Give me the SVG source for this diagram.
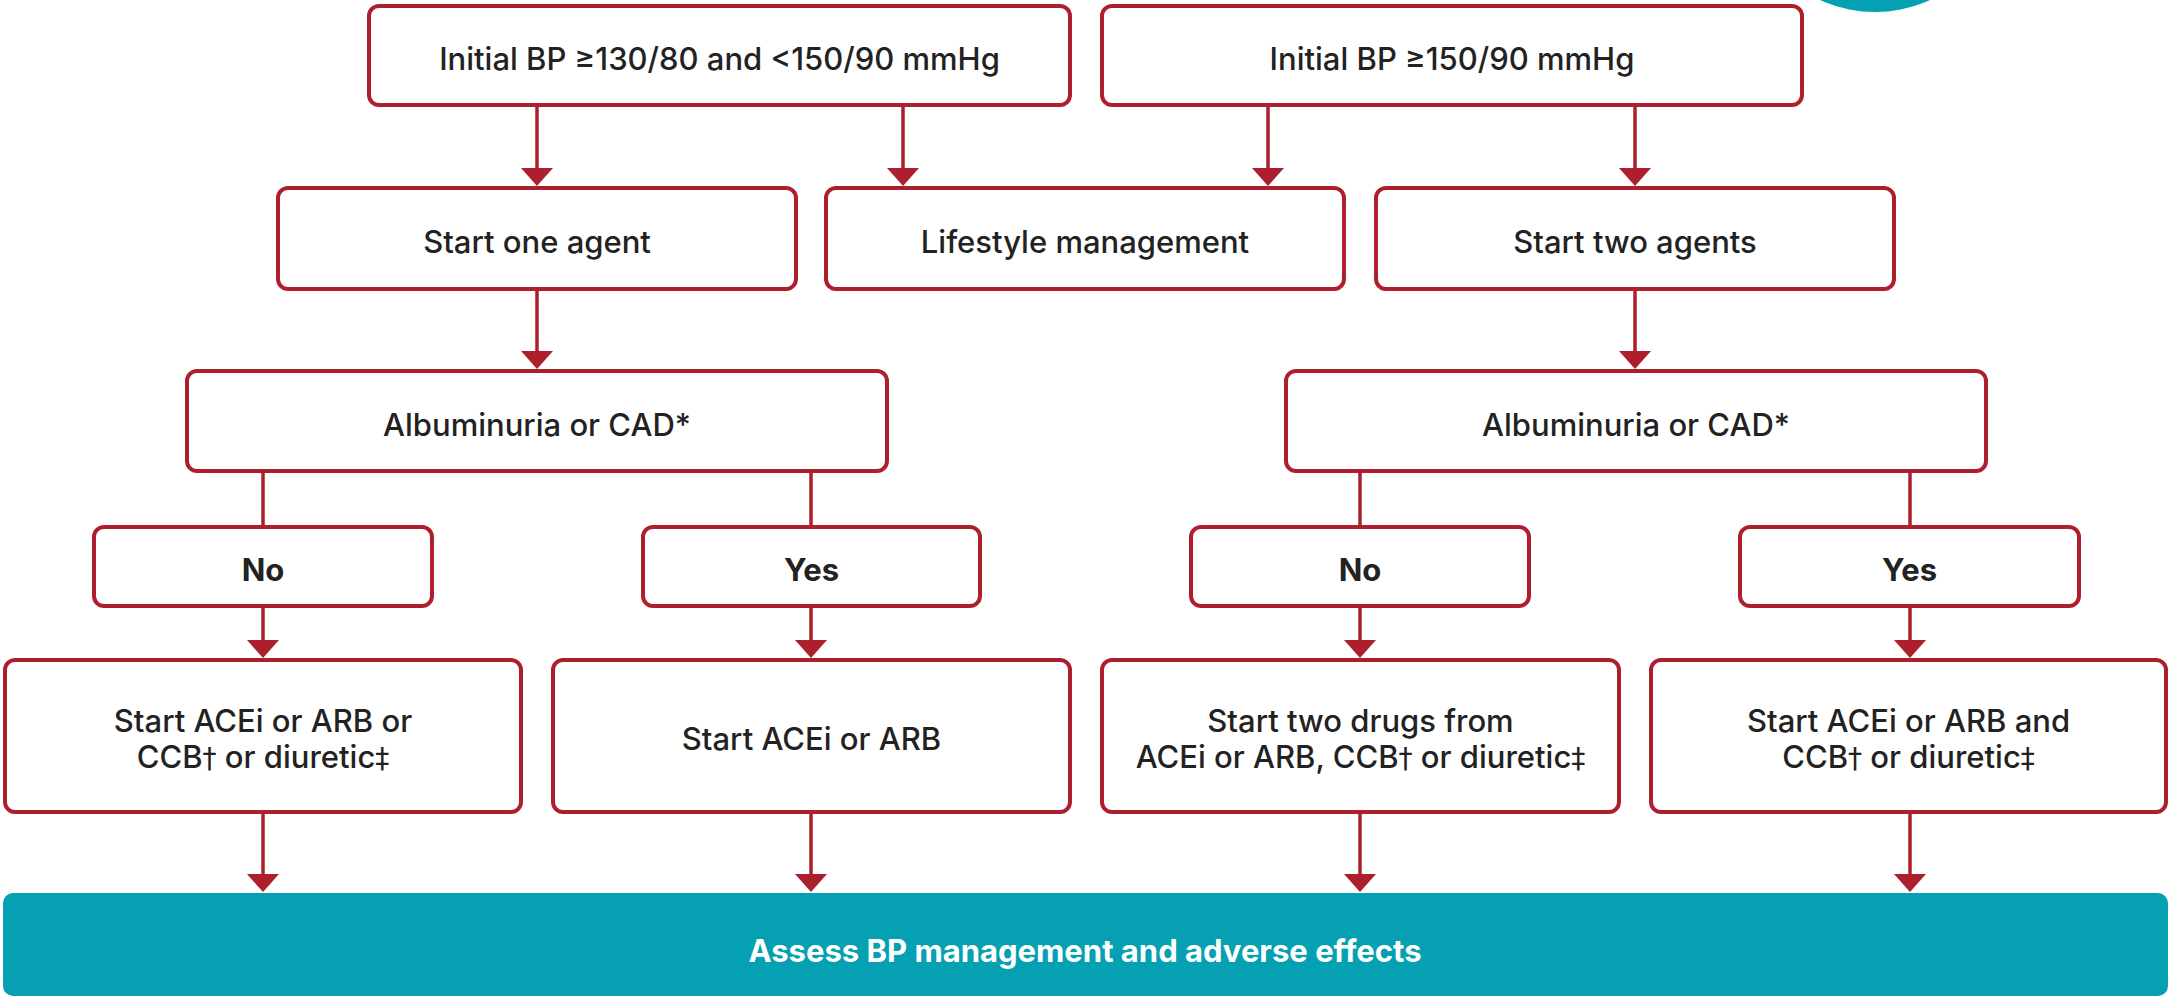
<svg xmlns="http://www.w3.org/2000/svg" width="2170" height="997" viewBox="0 0 2170 997">
  <style>
    .box { fill: #ffffff; stroke: #AE1F2E; stroke-width: 4; }
    .lbl { font-family: Inter, "Liberation Sans", sans-serif; font-size: 31px; font-weight: 500; fill: #222222; text-anchor: middle; }
    .bold { font-weight: 700; }
    .sym { font-family: "DejaVu Sans", sans-serif; font-size: 28px; }
    .wire { stroke: #AE1F2E; stroke-width: 3.5; fill: none; }
    .arrow { marker-end: url(#head); }
    .teal { fill: #05A0B1; }
    .white { fill: #ffffff; }
  </style>
  <defs>
    <marker id="head" viewBox="0 -16 18 32" markerWidth="18" markerHeight="32" refX="14" refY="0" orient="auto" markerUnits="userSpaceOnUse">
      <path d="M0,-16 L18,0 L0,16 Z" fill="#AE1F2E"/>
    </marker>
  </defs>

  <!-- decorative badge at top right -->
  <circle class="teal" cx="1875" cy="-120" r="132"/>

  <!-- connectors -->
  <g id="connectors">
    <line class="wire arrow" x1="537" y1="105" x2="537" y2="182"/>
    <line class="wire arrow" x1="903" y1="105" x2="903" y2="182"/>
    <line class="wire arrow" x1="1268" y1="105" x2="1268" y2="182"/>
    <line class="wire arrow" x1="1635" y1="105" x2="1635" y2="182"/>

    <line class="wire arrow" x1="537" y1="289" x2="537" y2="365"/>
    <line class="wire arrow" x1="1635" y1="289" x2="1635" y2="365"/>

    <line class="wire" x1="263" y1="471" x2="263" y2="527"/>
    <line class="wire" x1="811" y1="471" x2="811" y2="527"/>
    <line class="wire" x1="1360" y1="471" x2="1360" y2="527"/>
    <line class="wire" x1="1910" y1="471" x2="1910" y2="527"/>

    <line class="wire arrow" x1="263" y1="606" x2="263" y2="654"/>
    <line class="wire arrow" x1="811" y1="606" x2="811" y2="654"/>
    <line class="wire arrow" x1="1360" y1="606" x2="1360" y2="654"/>
    <line class="wire arrow" x1="1910" y1="606" x2="1910" y2="654"/>

    <line class="wire arrow" x1="263" y1="812" x2="263" y2="888"/>
    <line class="wire arrow" x1="811" y1="812" x2="811" y2="888"/>
    <line class="wire arrow" x1="1360" y1="812" x2="1360" y2="888"/>
    <line class="wire arrow" x1="1910" y1="812" x2="1910" y2="888"/>
  </g>

  <!-- starting conditions -->
  <g id="bp-moderate">
    <rect class="box" x="369" y="6" width="701" height="99" rx="10"/>
    <text class="lbl" x="719.5" y="70">Initial BP ≥130/80 and &lt;150/90 mmHg</text>
  </g>
  <g id="bp-high">
    <rect class="box" x="1102" y="6" width="700" height="99" rx="10"/>
    <text class="lbl" x="1452" y="70">Initial BP ≥150/90 mmHg</text>
  </g>

  <!-- first actions -->
  <g id="one-agent">
    <rect class="box" x="278" y="188" width="518" height="101" rx="10"/>
    <text class="lbl" x="537" y="253">Start one agent</text>
  </g>
  <g id="lifestyle">
    <rect class="box" x="826" y="188" width="518" height="101" rx="10"/>
    <text class="lbl" x="1085" y="253">Lifestyle management</text>
  </g>
  <g id="two-agents">
    <rect class="box" x="1376" y="188" width="518" height="101" rx="10"/>
    <text class="lbl" x="1635" y="253">Start two agents</text>
  </g>

  <!-- comorbidity checks -->
  <g id="check-left">
    <rect class="box" x="187" y="371" width="700" height="100" rx="10"/>
    <text class="lbl" x="537" y="436">Albuminuria or CAD*</text>
  </g>
  <g id="check-right">
    <rect class="box" x="1286" y="371" width="700" height="100" rx="10"/>
    <text class="lbl" x="1636" y="436">Albuminuria or CAD*</text>
  </g>

  <!-- answers -->
  <g id="no-left">
    <rect class="box" x="94" y="527" width="338" height="79" rx="10"/>
    <text class="lbl bold" x="263" y="581">No</text>
  </g>
  <g id="yes-left">
    <rect class="box" x="643" y="527" width="337" height="79" rx="10"/>
    <text class="lbl bold" x="811.5" y="581">Yes</text>
  </g>
  <g id="no-right">
    <rect class="box" x="1191" y="527" width="338" height="79" rx="10"/>
    <text class="lbl bold" x="1360" y="581">No</text>
  </g>
  <g id="yes-right">
    <rect class="box" x="1740" y="527" width="339" height="79" rx="10"/>
    <text class="lbl bold" x="1909.5" y="581">Yes</text>
  </g>

  <!-- drug choices -->
  <g id="drug-one">
    <rect class="box" x="5" y="660" width="516" height="152" rx="10"/>
    <text class="lbl" x="263" y="732">Start ACEi or ARB or</text>
    <text class="lbl" x="263" y="768">CCB<tspan class="sym">†</tspan> or diuretic<tspan class="sym">‡</tspan></text>
  </g>
  <g id="drug-acei">
    <rect class="box" x="553" y="660" width="517" height="152" rx="10"/>
    <text class="lbl" x="811.5" y="750">Start ACEi or ARB</text>
  </g>
  <g id="drug-two">
    <rect class="box" x="1102" y="660" width="517" height="152" rx="10"/>
    <text class="lbl" x="1360.5" y="732">Start two drugs from</text>
    <text class="lbl" x="1360.5" y="768">ACEi or ARB, CCB<tspan class="sym">†</tspan> or diuretic<tspan class="sym">‡</tspan></text>
  </g>
  <g id="drug-combo">
    <rect class="box" x="1651" y="660" width="515" height="152" rx="10"/>
    <text class="lbl" x="1908.5" y="732">Start ACEi or ARB and</text>
    <text class="lbl" x="1908.5" y="768">CCB<tspan class="sym">†</tspan> or diuretic<tspan class="sym">‡</tspan></text>
  </g>

  <!-- follow-up -->
  <g id="assess">
    <rect class="teal" x="3" y="893" width="2165" height="103" rx="10"/>
    <text class="lbl bold white" x="1085" y="962">Assess BP management and adverse effects</text>
  </g>
</svg>
